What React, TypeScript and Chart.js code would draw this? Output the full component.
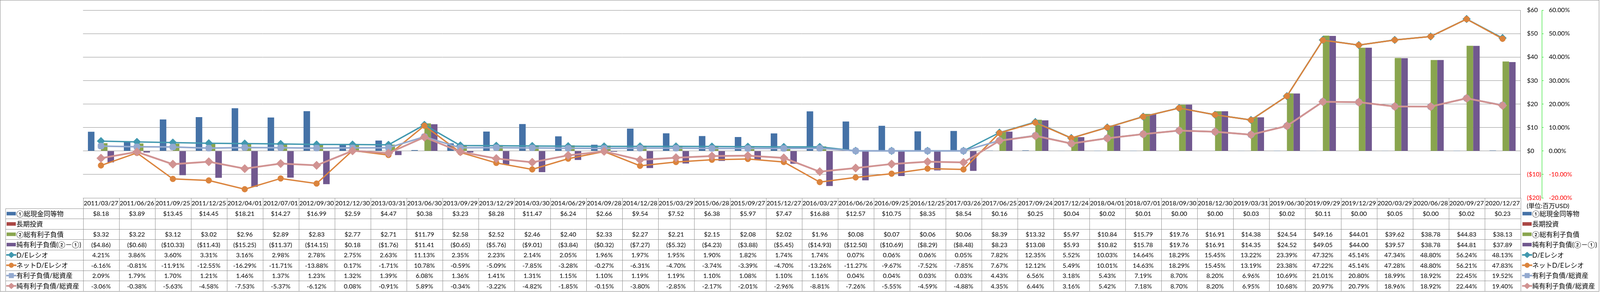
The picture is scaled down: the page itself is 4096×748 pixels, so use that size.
import React, { useEffect, useRef } from 'react';
import { Chart, registerables } from 'chart.js';

Chart.register(...registerables);

// ---------------- data ----------------
const categories = [
  '2011/03/27', '2011/06/26', '2011/09/25', '2011/12/25', '2012/04/01', '2012/07/01', '2012/09/30', '2012/12/30',
  '2013/03/31', '2013/06/30', '2013/09/29', '2013/12/29', '2014/03/30', '2014/06/29', '2014/09/28', '2014/12/28',
  '2015/03/29', '2015/06/28', '2015/09/27', '2015/12/27', '2016/03/27', '2016/06/26', '2016/09/25', '2016/12/25',
  '2017/03/26', '2017/06/25', '2017/09/24', '2017/12/24', '2018/04/01', '2018/07/01', '2018/09/30', '2018/12/30',
  '2019/03/31', '2019/06/30', '2019/09/29', '2019/12/29', '2020/03/29', '2020/06/28', '2020/09/27', '2020/12/27',
];

const cashEquivalents = [
  8.18, 3.89, 13.45, 14.45, 18.21, 14.27, 16.99, 2.59, 4.47, 0.38, 3.23, 8.28, 11.47, 6.24, 2.66, 9.54,
  7.52, 6.38, 5.97, 7.47, 16.88, 12.57, 10.75, 8.35, 8.54, 0.16, 0.25, 0.04, 0.02, 0.01, 0.0, 0.0,
  0.03, 0.02, 0.11, 0.0, 0.05, 0.0, 0.02, 0.23,
];

const longTermInvestments: (number | null)[] = [
  null, null, null, null, null, null, null, null, null, null, null, null, null, null, null, null,
  null, null, null, null, null, null, null, null, null, null, null, null, null, null, null, null,
  null, null, null, null, null, null, null, null,
];

const totalDebt = [
  3.32, 3.22, 3.12, 3.02, 2.96, 2.89, 2.83, 2.77, 2.71, 11.79, 2.58, 2.52, 2.46, 2.4, 2.33, 2.27,
  2.21, 2.15, 2.08, 2.02, 1.96, 0.08, 0.07, 0.06, 0.06, 8.39, 13.32, 5.97, 10.84, 15.79, 19.76, 16.91,
  14.38, 24.54, 49.16, 44.01, 39.62, 38.78, 44.83, 38.13,
];

const netDebt = [
  -4.86, -0.68, -10.33, -11.43, -15.25, -11.37, -14.15, 0.18, -1.76, 11.41, -0.65, -5.76, -9.01, -3.84, -0.32, -7.27,
  -5.32, -4.23, -3.88, -5.45, -14.93, -12.5, -10.69, -8.29, -8.48, 8.23, 13.08, 5.93, 10.82, 15.78, 19.76, 16.91,
  14.35, 24.52, 49.05, 44.0, 39.57, 38.78, 44.81, 37.89,
];

const deRatio = [
  4.21, 3.86, 3.6, 3.31, 3.16, 2.98, 2.78, 2.75, 2.63, 11.13, 2.35, 2.23, 2.14, 2.05, 1.96, 1.97,
  1.95, 1.9, 1.82, 1.74, 1.74, 0.07, 0.06, 0.06, 0.05, 7.82, 12.35, 5.52, 10.03, 14.64, 18.29, 15.45,
  13.22, 23.39, 47.32, 45.14, 47.34, 48.8, 56.24, 48.13,
];

const netDeRatio = [
  -6.16, -0.81, -11.91, -12.55, -16.29, -11.71, -13.88, 0.17, -1.71, 10.78, -0.59, -5.09, -7.85, -3.28, -0.27, -6.31,
  -4.7, -3.74, -3.39, -4.7, -13.26, -11.27, -9.67, -7.52, -7.85, 7.67, 12.12, 5.49, 10.01, 14.63, 18.29, 15.45,
  13.19, 23.38, 47.22, 45.14, 47.28, 48.8, 56.21, 47.83,
];

const debtToAssets = [
  2.09, 1.79, 1.7, 1.21, 1.46, 1.37, 1.23, 1.32, 1.39, 6.08, 1.36, 1.41, 1.31, 1.15, 1.1, 1.19,
  1.19, 1.1, 1.08, 1.1, 1.16, 0.04, 0.04, 0.03, 0.03, 4.43, 6.56, 3.18, 5.43, 7.19, 8.7, 8.2,
  6.96, 10.69, 21.01, 20.8, 18.99, 18.92, 22.45, 19.52,
];

const netDebtToAssets = [
  -3.06, -0.38, -5.63, -4.58, -7.53, -5.37, -6.12, 0.08, -0.91, 5.89, -0.34, -3.22, -4.82, -1.85, -0.15, -3.8,
  -2.85, -2.17, -2.01, -2.96, -8.81, -7.26, -5.55, -4.59, -4.88, 4.35, 6.44, 3.16, 5.42, 7.18, 8.7, 8.2,
  6.95, 10.68, 20.97, 20.79, 18.96, 18.92, 22.44, 19.4,
];

const seriesLabels = [
  '①総現金同等物',
  '長期投資',
  '②総有利子負債',
  '純有利子負債(②－①)',
  'D/Eレシオ',
  'ネットD/Eレシオ',
  '有利子負債/総資産',
  '純有利子負債/総資産',
];

const unitLabel = '(単位:百万USD)';
const axisMin = -20;
const axisMax = 60;
const axisStep = 10;

// ---------------- style ----------------
const FONT = "Lato, 'Noto Sans CJK JP', sans-serif";
const C_BLUE = '#4572A7';
const C_RED = '#AA4643';
const C_GREEN = '#89A54E';
const C_PURPLE = '#71588F';
const C_TEAL = '#4198AF';
const C_ORANGE = '#DB843D';
const C_LBLUE = '#93A9CF';
const C_PINK = '#D19392';
const GRID = '#8C8C8C';

const W = 4096;
const H = 748;
const PLOT_LEFT = 212.5;
const PLOT_TOP = 11.5;
const HEADER_H = 27;
const ROW_H = 26.45;
const TABLE_BOTTOM_PAD = 214;
const Y_AXIS_W = 54.5;
const Y1_AXIS_W = 149;
const LABEL_LEFT = 14;

type RowDef = {
  label: string;
  values: (number | null)[];
  fmt: 'usd' | 'pct';
  color: string;
  mark: 'bar' | 'rectRot' | 'circle' | 'rectRounded';
};

const tableRows: RowDef[] = [
  { label: seriesLabels[0], values: cashEquivalents, fmt: 'usd', color: C_BLUE, mark: 'bar' },
  { label: seriesLabels[1], values: longTermInvestments, fmt: 'usd', color: C_RED, mark: 'bar' },
  { label: seriesLabels[2], values: totalDebt, fmt: 'usd', color: C_GREEN, mark: 'bar' },
  { label: seriesLabels[3], values: netDebt, fmt: 'usd', color: C_PURPLE, mark: 'bar' },
  { label: seriesLabels[4], values: deRatio, fmt: 'pct', color: C_TEAL, mark: 'rectRot' },
  { label: seriesLabels[5], values: netDeRatio, fmt: 'pct', color: C_ORANGE, mark: 'circle' },
  { label: seriesLabels[6], values: debtToAssets, fmt: 'pct', color: C_LBLUE, mark: 'rectRounded' },
  { label: seriesLabels[7], values: netDebtToAssets, fmt: 'pct', color: C_PINK, mark: 'rectRot' },
];

function fmtValue(v: number, f: 'usd' | 'pct'): string {
  if (f === 'usd') {
    return v < 0 ? `($${(-v).toFixed(2)})` : `$${v.toFixed(2)}`;
  }
  return `${v.toFixed(2)}%`;
}

function drawSwatch(ctx: CanvasRenderingContext2D, row: RowDef, x: number, yc: number) {
  ctx.save();
  if (row.mark === 'bar') {
    ctx.fillStyle = row.color;
    ctx.fillRect(x, yc - 4.5, 23.5, 9);
  } else {
    ctx.strokeStyle = row.color;
    ctx.fillStyle = row.color;
    ctx.lineWidth = 4;
    ctx.beginPath();
    ctx.moveTo(x - 1, yc);
    ctx.lineTo(x + 25, yc);
    ctx.stroke();
    const cx = x + 12;
    ctx.beginPath();
    if (row.mark === 'rectRot') {
      ctx.moveTo(cx - 9, yc);
      ctx.lineTo(cx, yc - 8);
      ctx.lineTo(cx + 9, yc);
      ctx.lineTo(cx, yc + 8);
      ctx.closePath();
    } else if (row.mark === 'circle') {
      ctx.arc(cx, yc, 6.5, 0, Math.PI * 2);
    } else {
      ctx.rect(cx - 6.5, yc - 6.5, 13, 13);
    }
    ctx.fill();
  }
  ctx.restore();
}

const tablePlugin = {
  id: 'excelDataTable',
  afterDraw(chart: any) {
    const ctx: CanvasRenderingContext2D = chart.ctx;
    const area = chart.chartArea;
    const xs = chart.scales.x;
    const top = area.bottom;
    const headerBottom = xs.bottom;
    const n = categories.length;
    const catW = (area.right - area.left) / n;
    const tableBottom = headerBottom + tableRows.length * ROW_H;

    ctx.save();
    // grid of the data table
    ctx.strokeStyle = GRID;
    ctx.lineWidth = 1;
    ctx.beginPath();
    for (let r = 0; r <= tableRows.length; r++) {
      const y = Math.round(headerBottom + r * ROW_H) + 0.5;
      ctx.moveTo(LABEL_LEFT, y);
      ctx.lineTo(area.right, y);
    }
    ctx.moveTo(area.left, Math.round(top) + 0.5);
    ctx.lineTo(area.right, Math.round(top) + 0.5);
    ctx.moveTo(LABEL_LEFT + 0.5, headerBottom);
    ctx.lineTo(LABEL_LEFT + 0.5, tableBottom);
    for (let i = 0; i <= n; i++) {
      const x = Math.round(area.left + i * catW) + 0.5;
      ctx.moveTo(x, top);
      ctx.lineTo(x, tableBottom);
    }
    ctx.stroke();

    // values
    ctx.fillStyle = '#000';
    ctx.textBaseline = 'middle';
    tableRows.forEach((row, r) => {
      const yc = headerBottom + (r + 0.5) * ROW_H + 1;
      ctx.font = `16px ${FONT}`;
      ctx.textAlign = 'center';
      row.values.forEach((v, i) => {
        if (v === null || v === undefined) return;
        ctx.fillText(fmtValue(v, row.fmt), xs.getPixelForValue(i), yc);
      });
      // row header
      drawSwatch(ctx, row, LABEL_LEFT + 3, yc - 1);
      ctx.font = `17px ${FONT}`;
      ctx.textAlign = 'left';
      ctx.fillStyle = '#000';
      ctx.fillText(row.label, LABEL_LEFT + 28, yc);
      // right legend
      drawSwatch(ctx, row, area.right + 5, yc - 1);
      ctx.fillStyle = '#000';
      ctx.fillText(row.label, area.right + 30, yc);
    });

    ctx.font = `16px ${FONT}`;
    ctx.textAlign = 'left';
    ctx.fillText(unitLabel, area.right + 16, headerBottom - 6);

    // chart outer border
    ctx.strokeStyle = '#868686';
    ctx.lineWidth = 1;
    ctx.strokeRect(0.5, 0.5, 4093, 746);
    ctx.restore();
  },
};

export default function App() {
  const canvasRef = useRef<HTMLCanvasElement | null>(null);

  useEffect(() => {
    const canvas = canvasRef.current;
    if (!canvas) return;
    Chart.defaults.font.family = FONT;
    Chart.defaults.font.size = 16;
    Chart.defaults.color = '#000';

    const barCommon = {
      type: 'bar' as const,
      yAxisID: 'y',
      borderWidth: 0,
      categoryPercentage: 0.727,
      barPercentage: 1.0,
      order: 10,
    };
    const lineCommon = {
      type: 'line' as const,
      yAxisID: 'y1',
      tension: 0,
      pointBorderWidth: 1,
      fill: false,
    };

    const chart = new Chart(canvas, {
      type: 'bar',
      data: {
        labels: categories,
        datasets: [
          { ...barCommon, label: seriesLabels[0], data: cashEquivalents, backgroundColor: C_BLUE },
          { ...barCommon, label: seriesLabels[1], data: longTermInvestments, backgroundColor: C_RED },
          { ...barCommon, label: seriesLabels[2], data: totalDebt, backgroundColor: C_GREEN },
          { ...barCommon, label: seriesLabels[3], data: netDebt, backgroundColor: C_PURPLE },
          {
            ...lineCommon, label: seriesLabels[4], data: deRatio,
            borderColor: C_TEAL, backgroundColor: C_TEAL, pointBorderColor: C_TEAL,
            borderWidth: 3.5, pointStyle: 'rectRot', pointRadius: 10, order: 4,
          },
          {
            ...lineCommon, label: seriesLabels[5], data: netDeRatio,
            borderColor: C_ORANGE, backgroundColor: C_ORANGE, pointBorderColor: C_ORANGE,
            borderWidth: 3.5, pointStyle: 'circle', pointRadius: 7.5, order: 3,
          },
          {
            ...lineCommon, label: seriesLabels[6], data: debtToAssets,
            borderColor: C_LBLUE, backgroundColor: C_LBLUE, pointBorderColor: C_LBLUE,
            borderWidth: 4, pointStyle: 'rectRounded', pointRadius: 9, order: 2,
          },
          {
            ...lineCommon, label: seriesLabels[7], data: netDebtToAssets,
            borderColor: C_PINK, backgroundColor: C_PINK, pointBorderColor: C_PINK,
            borderWidth: 4.5, pointStyle: 'rectRot', pointRadius: 11, order: 1,
          },
        ] as any,
      },
      options: {
        responsive: false,
        maintainAspectRatio: false,
        devicePixelRatio: 1,
        animation: false,
        events: [],
        layout: {
          padding: { left: PLOT_LEFT, top: PLOT_TOP, right: 0, bottom: TABLE_BOTTOM_PAD },
        },
        plugins: {
          legend: { display: false },
          tooltip: { enabled: false },
        },
        scales: {
          x: {
            type: 'category',
            position: 'bottom',
            offset: true,
            grid: { display: false, drawTicks: false },
            border: { display: false },
            ticks: {
              autoSkip: false,
              maxRotation: 0,
              minRotation: 0,
              padding: 4,
              color: '#000',
              font: { size: 16, family: FONT },
            },
            afterFit: (s: any) => { s.height = HEADER_H; },
          },
          y: {
            type: 'linear',
            position: 'right',
            weight: 0,
            min: axisMin,
            max: axisMax,
            grid: { color: GRID, lineWidth: 1, drawTicks: false },
            border: { display: true, color: GRID, width: 1 },
            ticks: {
              stepSize: axisStep,
              padding: 16.5,
              font: { size: 16, family: FONT },
              color: (c: any) => (c.tick && c.tick.value < 0 ? '#FF0000' : '#000000'),
              callback: (v: any) => (Number(v) < 0 ? `($${-Number(v)})` : `$${Number(v)}`),
            },
            afterFit: (s: any) => { s.width = Y_AXIS_W; },
          },
          y1: {
            type: 'linear',
            position: 'right',
            weight: 1,
            min: axisMin,
            max: axisMax,
            grid: { drawOnChartArea: false, drawTicks: true, tickLength: 4.5, tickColor: '#00DD00', tickWidth: 1 },
            border: { display: true, color: '#00DD00', width: 1, dash: [3, 3] },
            ticks: {
              stepSize: axisStep,
              padding: 13.5,
              font: { size: 16, family: FONT },
              color: (c: any) => (c.tick && c.tick.value < 0 ? '#FF0000' : '#000000'),
              callback: (v: any) => `${Number(v).toFixed(2)}%`,
            },
            afterFit: (s: any) => { s.width = Y1_AXIS_W; },
          },
        },
      } as any,
      plugins: [tablePlugin],
    });

    return () => {
      chart.destroy();
    };
  }, []);

  return (
    <div style={{ position: 'fixed', left: 0, top: 0, width: W, height: H, background: '#fff', overflow: 'hidden' }}>
      <canvas ref={canvasRef} width={W} height={H} style={{ display: 'block', width: W, height: H }} />
    </div>
  );
}
